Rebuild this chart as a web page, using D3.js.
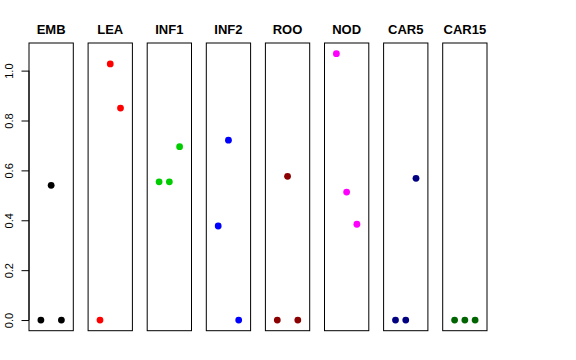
<!DOCTYPE html>
<html>
<head>
<meta charset="utf-8">
<script src="https://cdn.jsdelivr.net/npm/d3@7"></script>
<style>
  body { margin: 0; background: #fff; }
  text { font-family: "Liberation Sans", Arial, sans-serif; }
</style>
</head>
<body>
<div id="chart"></div>
<script>
    // data
    let groups = ["EMB", "LEA", "INF1", "INF2", "ROO", "NOD", "CAR5", "CAR15"];
    let colors = ["#000000", "#ff0000", "#00cd00", "#0000ff", "#8b0000", "#ff00ff", "#000080", "#006400"];
    let xPos = [1, 2, 3];
    let EMB = [0, 0.540, 0];
    let LEA = [0, 1.027, 0.850];
    let INF1 = [0.554, 0.554, 0.695];
    let INF2 = [0.377, 0.721, 0];
    let ROO = [0, 0.576, 0];
    let NOD = [1.068, 0.513, 0.384];
    let CAR5 = [0, 0, 0.568];
    let CAR15 = [0, 0, 0];
    let values = [EMB, LEA, INF1, INF2, ROO, NOD, CAR5, CAR15];
    let yTicks = [0, 0.2, 0.4, 0.6, 0.8, 1.0];

    let svgWidth = 576;
    let svgHeight = 360;
    let margin = {top: 43, left: 29, bottom: 29.3};
    let panelW = 44.3;
    let panelStep = 59.1;
    let panelH = svgHeight - margin.top - margin.bottom;

    let svg = d3.select("#chart")
        .append("svg")
        .attr("width", svgWidth)
        .attr("height", svgHeight);

    // shared y scale, R-style 4% padding
    let yMax = d3.max(values, v => d3.max(v));
    let pad = yMax * 0.04;
    let yScale = d3.scaleLinear()
        .domain([-pad, yMax + pad])
        .range([panelH, 0]);

    let xScale = d3.scaleLinear()
        .domain([-0.16, 4.16])
        .range([0, panelW]);

    groups.forEach((g, i) => {
        let panel = svg.append("g")
            .attr("transform", `translate(${margin.left + i * panelStep}, ${margin.top})`);

        panel.append("rect")
            .attr("x", 0)
            .attr("y", 0)
            .attr("width", panelW)
            .attr("height", panelH)
            .attr("fill", "none")
            .attr("stroke", "#000")
            .attr("stroke-width", 1);

        panel.append("text")
            .attr("x", panelW / 2)
            .attr("y", -9.5)
            .attr("text-anchor", "middle")
            .attr("font-size", 13)
            .attr("font-weight", "bold")
            .text(g);

        panel.selectAll("circle")
            .data(values[i])
            .enter()
            .append("circle")
            .attr("cx", (d, j) => xScale(xPos[j]))
            .attr("cy", d => yScale(d))
            .attr("r", 3.4)
            .attr("fill", colors[i]);

        // y axis only on the first panel
        if (i === 0) {
            let leftAxis = d3.axisLeft(yScale)
                .tickValues(yTicks)
                .tickFormat(d3.format(".1f"))
                .tickSize(7.5)
                .tickPadding(5);
            let yAxis = panel.append("g").call(leftAxis);
            yAxis.select(".domain")
                .attr("d", `M0,${yScale(0)}V${yScale(1)}`);
            yAxis.selectAll("text")
                .attr("font-size", 11)
                .attr("font-family", "Liberation Sans, Arial, sans-serif")
                .attr("fill", "#000")
                .attr("text-anchor", "middle")
                .attr("dy", null)
                .attr("x", null)
                .attr("transform", "translate(-16,0) rotate(-90)");
        }
    });
</script>
</body>
</html>
